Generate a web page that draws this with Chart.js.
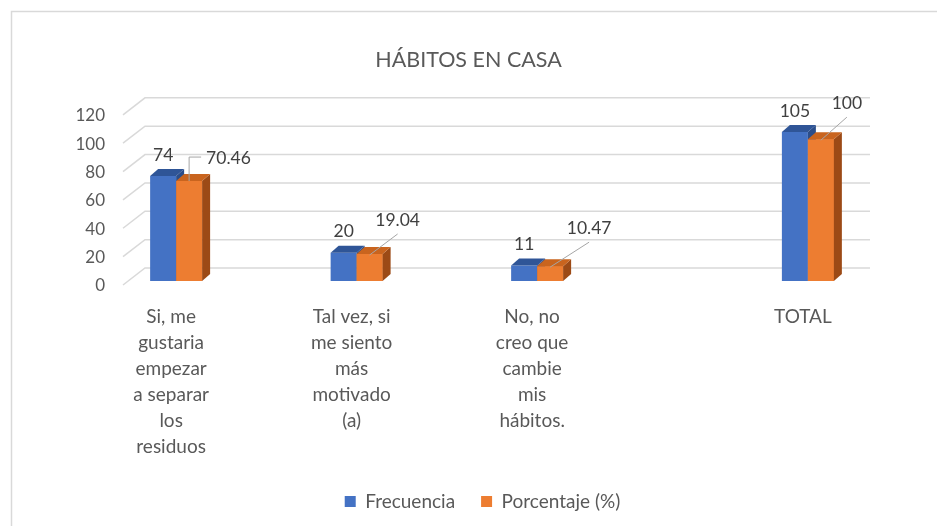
<!DOCTYPE html>
<html>
<head>
<meta charset="utf-8">
<script src="https://cdn.jsdelivr.net/npm/chart.js@4"></script>
<style>
  html, body { margin: 0; padding: 0; background: #fff; }
  #wrap { width: 937px; height: 526px; position: relative; }
</style>
</head>
<body>
<div id="wrap"><canvas id="habitosChart"></canvas></div>
<script>
// data (blank slots keep the original spacing)
const categories = [
  ["Si, me", "gustaria", "empezar", "a separar", "los", "residuos"],
  "",
  ["Tal vez, si", "me siento", "más", "motivado", "(a)"],
  "",
  ["No, no", "creo que", "cambie", "mis", "hábitos."],
  "",
  "",
  "TOTAL"
];
const frecuencia = [74, null, 20, null, 11, null, null, 105];
const porcentaje = [70.46, null, 19.04, null, 10.47, null, null, 100];
const yTicks = [0, 20, 40, 60, 80, 100, 120];

const chartTitle = "HÁBITOS EN CASA";
const seriesNames = ["Frecuencia", "Porcentaje (%)"];

// callout offsets for the orange value labels [dx, dy, elbow]
const callouts = [[12, 24, true], null, [28, 20], null, [39, 24], null, null, [26, 22]];

const BLUE = "#4472C4", BLUE_TOP = "#2F5597", BLUE_SIDE = "#2A4D8A";
const ORANGE = "#ED7D31", ORANGE_TOP = "#C9641E", ORANGE_SIDE = "#9C4A16";
const GRID = "#D9D9D9", TEXT = "#595959", LABEL = "#404040";
const DX = 8, DY = 7;

Chart.defaults.font.family = "Lato, 'Open Sans', sans-serif";
Chart.defaults.color = TEXT;

const frame = {
  id: "frame",
  beforeDraw(chart) {
    const ctx = chart.ctx;
    ctx.save();
    ctx.fillStyle = "#fff";
    ctx.fillRect(0, 0, chart.width, chart.height);
    ctx.strokeStyle = GRID;
    ctx.lineWidth = 1.5;
    ctx.strokeRect(11.5, 11.5, chart.width + 20, chart.height + 20);
    ctx.restore();
  },
  beforeDatasetsDraw(chart) {
    // 3d walls: front edge, diagonal, back gridline
    const { ctx, chartArea } = chart;
    const y = chart.scales.y;
    ctx.save();
    ctx.strokeStyle = GRID;
    ctx.lineWidth = 1.5;
    yTicks.forEach((v) => {
      const py = y.getPixelForValue(v);
      ctx.beginPath();
      ctx.moveTo(chartArea.left - 8, py + 4);
      ctx.lineTo(chartArea.left + 14, py - 13);
      ctx.lineTo(chartArea.right + 17, py - 13);
      ctx.stroke();
    });
    ctx.restore();
  },
  afterLayout(chart) {
    // nudge legend to where the original sits
    chart.legend.left += 14;
    chart.legend.right += 14;
    chart.legend.top -= 5;
    chart.legend.bottom -= 5;
  },
  afterDatasetsDraw(chart) {
    const ctx = chart.ctx;
    const m0 = chart.getDatasetMeta(0);
    const m1 = chart.getDatasetMeta(1);

    function faces(bar, topColor, sideColor) {
      const l = bar.x - bar.width / 2, r = bar.x + bar.width / 2;
      const t = bar.y, b = bar.base;
      ctx.fillStyle = sideColor;
      ctx.beginPath();
      ctx.moveTo(r, t);
      ctx.lineTo(r + DX, t - DY);
      ctx.lineTo(r + DX, b - DY);
      ctx.lineTo(r, b);
      ctx.closePath();
      ctx.fill();
      ctx.fillStyle = topColor;
      ctx.beginPath();
      ctx.moveTo(l, t);
      ctx.lineTo(l + DX, t - DY);
      ctx.lineTo(r + DX, t - DY);
      ctx.lineTo(r, t);
      ctx.closePath();
      ctx.fill();
    }

    ctx.save();
    m0.data.forEach((bar, i) => {
      if (frecuencia[i] == null) return;
      faces(bar, BLUE_TOP, BLUE_SIDE);
    });
    m1.data.forEach((bar, i) => {
      if (porcentaje[i] == null) return;
      bar.draw(ctx);
    });
    m1.data.forEach((bar, i) => {
      if (porcentaje[i] == null) return;
      faces(bar, ORANGE_TOP, ORANGE_SIDE);
    });

    // value labels
    ctx.font = "17.5px Lato, 'Open Sans', sans-serif";
    ctx.fillStyle = LABEL;
    ctx.textBaseline = "middle";
    m0.data.forEach((bar, i) => {
      if (frecuencia[i] == null) return;
      ctx.textAlign = "center";
      ctx.fillText(String(frecuencia[i]), bar.x, bar.y - 21);
    });
    ctx.strokeStyle = "#A6A6A6";
    ctx.lineWidth = 1;
    m1.data.forEach((bar, i) => {
      const c = callouts[i];
      if (porcentaje[i] == null || !c) return;
      const [dx, dy, elbow] = c;
      ctx.beginPath();
      if (elbow) {
        ctx.moveTo(bar.x, bar.y);
        ctx.lineTo(bar.x, bar.y - dy);
        ctx.lineTo(bar.x + dx, bar.y - dy);
        ctx.stroke();
        ctx.textAlign = "left";
        ctx.fillText(String(porcentaje[i]), bar.x + dx + 5, bar.y - dy + 1);
      } else {
        ctx.moveTo(bar.x, bar.y + 1);
        ctx.lineTo(bar.x + dx, bar.y - dy);
        ctx.stroke();
        ctx.textAlign = "center";
        ctx.fillText(String(porcentaje[i]), bar.x + dx, bar.y - dy - 14);
      }
    });
    ctx.restore();
  }
};

new Chart(document.getElementById("habitosChart"), {
  type: "bar",
  data: {
    labels: categories,
    datasets: [
      {
        label: seriesNames[0],
        data: frecuencia,
        backgroundColor: BLUE,
        categoryPercentage: 0.576,
        barPercentage: 1,
      },
      {
        label: seriesNames[1],
        data: porcentaje,
        backgroundColor: ORANGE,
        categoryPercentage: 0.576,
        barPercentage: 1,
      },
    ],
  },
  options: {
    responsive: true,
    maintainAspectRatio: false,
    animation: false,
    layout: { padding: 0 },
    plugins: {
      title: {
        display: true,
        text: chartTitle,
        color: TEXT,
        font: { size: 21.5, weight: "normal" },
        padding: { top: 47, bottom: 38 },
      },
      legend: {
        position: "bottom",
        labels: {
          boxWidth: 11,
          boxHeight: 11,
          padding: 26,
          color: TEXT,
          font: { size: 19 },
        },
      },
      tooltip: { enabled: false },
    },
    scales: {
      x: {
        grid: { display: false, drawTicks: false },
        border: { display: false },
        ticks: {
          autoSkip: false,
          maxRotation: 0,
          padding: 23,
          labelOffset: -5,
          color: TEXT,
          font: { size: 19, lineHeight: 26 / 19 },
        },
        afterFit(scale) {
          scale.height = 190;
        },
      },
      y: {
        min: 0,
        max: 120,
        grid: { display: false, drawTicks: false },
        border: { display: false },
        ticks: {
          stepSize: 20,
          padding: 26,
          labelOffset: 5,
          color: TEXT,
          font: { size: 17 },
        },
        afterFit(scale) {
          scale.width = 131;
        },
      },
      yRight: {
        position: "right",
        grid: { display: false, drawTicks: false },
        border: { display: false },
        ticks: { display: false },
        afterFit(scale) {
          scale.width = 84;
        },
      },
    },
  },
  plugins: [frame],
});
</script>
</body>
</html>
